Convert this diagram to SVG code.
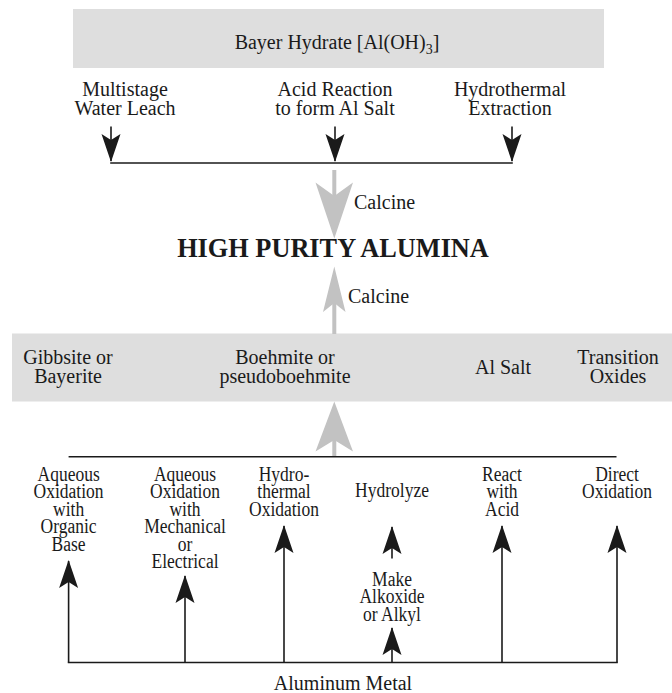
<svg xmlns="http://www.w3.org/2000/svg" width="672" height="693" viewBox="0 0 672 693">
<style>
text{font-family:"Liberation Serif","Times New Roman",serif;font-size:20px;fill:#1a1a1a;text-anchor:middle}
.box{fill:#dedede}
.ln{stroke:#1a1a1a;stroke-width:1.6;fill:none}
.gs{stroke:#c2c2c2;stroke-width:4;fill:none}
.gh{fill:#c2c2c2}
.big{font-weight:bold;font-size:26.3px}
</style>
<defs>
<marker id="ah" markerUnits="userSpaceOnUse" viewBox="-28 -10 29 20" markerWidth="29" markerHeight="20" refX="0" refY="0" orient="auto" overflow="visible">
<path d="M1,0 L-27,-9.5 L-21,0 L-27,9.5 Z" fill="#1a1a1a"/>
</marker>
</defs>
<g id="bayer-hydrate">
<rect class="box" x="73" y="9" width="531" height="59"/>
<text x="337" y="49">Bayer Hydrate [Al(OH)<tspan font-size="14" dy="5">3</tspan><tspan dy="-5">]</tspan></text>
</g>
<g id="water-leach"><text x="125" y="95.5">Multistage</text><text x="125" y="115">Water Leach</text></g>
<g id="acid-reaction"><text x="335" y="95.5">Acid Reaction</text><text x="335" y="115">to form Al Salt</text></g>
<g id="hydrothermal-extraction"><text x="510" y="95.5">Hydrothermal</text><text x="510" y="115">Extraction</text></g>
<g id="calcine-top"><text x="354" y="209" style="text-anchor:start">Calcine</text></g>
<g id="hpa"><text class="big" x="333" y="256.5">HIGH PURITY ALUMINA</text></g>
<g id="calcine-mid"><text x="348" y="303" style="text-anchor:start">Calcine</text></g>
<g id="intermediates">
<rect class="box" x="12" y="333.5" width="660" height="68"/>
<text x="68" y="363.5">Gibbsite or</text><text x="68" y="383">Bayerite</text>
<text x="285" y="363.5">Boehmite or</text><text x="285" y="383">pseudoboehmite</text>
<text x="503" y="373.5">Al Salt</text>
<text x="618" y="363.5">Transition</text><text x="618" y="383">Oxides</text>
</g>
<g id="aq-organic" transform="translate(68.6,0) scale(0.875,1)"><text x="0" y="481">Aqueous</text><text x="0" y="498.5">Oxidation</text><text x="0" y="516">with</text><text x="0" y="533.5">Organic</text><text x="0" y="551">Base</text></g>
<g id="aq-mech" transform="translate(185,0) scale(0.875,1)"><text x="0" y="481">Aqueous</text><text x="0" y="498.5">Oxidation</text><text x="0" y="516">with</text><text x="0" y="533.5">Mechanical</text><text x="0" y="551">or</text><text x="0" y="568.5">Electrical</text></g>
<g id="hydrothermal-ox" transform="translate(284,0) scale(0.875,1)"><text x="0" y="481">Hydro-</text><text x="0" y="498.5">thermal</text><text x="0" y="516">Oxidation</text></g>
<g id="hydrolyze" transform="translate(392,0) scale(0.875,1)"><text x="0" y="497">Hydrolyze</text></g>
<g id="alkoxide" transform="translate(392,0) scale(0.875,1)"><text x="0" y="586">Make</text><text x="0" y="603.5">Alkoxide</text><text x="0" y="621">or Alkyl</text></g>
<g id="react-acid" transform="translate(502,0) scale(0.875,1)"><text x="0" y="481">React</text><text x="0" y="498.5">with</text><text x="0" y="516">Acid</text></g>
<g id="direct-ox" transform="translate(617,0) scale(0.875,1)"><text x="0" y="481">Direct</text><text x="0" y="498.5">Oxidation</text></g>
<g id="aluminum-metal"><text x="343" y="690">Aluminum Metal</text></g>
<g id="connectors">
<line class="ln" x1="111" y1="126.5" x2="111" y2="161" marker-end="url(#ah)"/>
<line class="ln" x1="335" y1="126.5" x2="335" y2="161" marker-end="url(#ah)"/>
<line class="ln" x1="512" y1="126.5" x2="512" y2="161" marker-end="url(#ah)"/>
<line class="ln" x1="110.2" y1="163" x2="512.8" y2="163"/>
<line class="gs" x1="334.3" y1="170" x2="334.3" y2="200"/>
<path class="gh" d="M334.3,238.5 L315.5,182.5 L334.3,196 L353,182.5 Z"/>
<line class="gs" x1="334.3" y1="300" x2="334.3" y2="334"/>
<path class="gh" d="M334.3,266.5 L323,312 L334.3,303 L345.5,312 Z"/>
<line class="gs" x1="334.3" y1="437" x2="334.3" y2="456"/>
<path class="gh" d="M334.3,401.5 L315.5,451.5 L334.3,440 L353,451.5 Z"/>
<line class="ln" x1="68.6" y1="456.8" x2="616.5" y2="456.8"/>
<line class="ln" x1="67.8" y1="662.5" x2="617.8" y2="662.5"/>
<line class="ln" x1="68.6" y1="662.5" x2="68.6" y2="561" marker-end="url(#ah)"/>
<line class="ln" x1="185" y1="662.5" x2="185" y2="576" marker-end="url(#ah)"/>
<line class="ln" x1="284" y1="662.5" x2="284" y2="526" marker-end="url(#ah)"/>
<line class="ln" x1="392" y1="558.5" x2="392" y2="527" marker-end="url(#ah)"/>
<line class="ln" x1="392" y1="662.5" x2="392" y2="628" marker-end="url(#ah)"/>
<line class="ln" x1="502" y1="662.5" x2="502" y2="526" marker-end="url(#ah)"/>
<line class="ln" x1="617" y1="662.5" x2="617" y2="526" marker-end="url(#ah)"/>
</g>
</svg>
